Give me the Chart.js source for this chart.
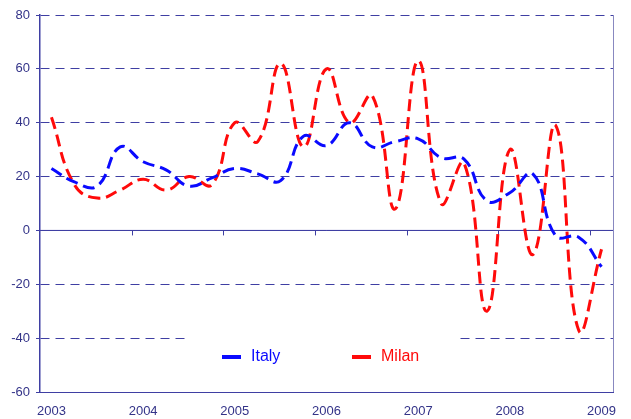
<!DOCTYPE html>
<html>
<head>
<meta charset="utf-8">
<script src="https://cdn.jsdelivr.net/npm/chart.js@4"></script>
<style>
html,body{margin:0;padding:0;background:#fff;}
#wrap{width:631px;height:419px;}
</style>
</head>
<body>
<div id="wrap"><canvas id="c" width="631" height="419"></canvas></div>
<script>
const quarters = ['2003 Q1','2003 Q2','2003 Q3','2003 Q4','2004 Q1','2004 Q2','2004 Q3','2004 Q4',
  '2005 Q1','2005 Q2','2005 Q3','2005 Q4','2006 Q1','2006 Q2','2006 Q3','2006 Q4',
  '2007 Q1','2007 Q2','2007 Q3','2007 Q4','2008 Q1','2008 Q2','2008 Q3','2008 Q4','2009 Q1'];
const italy = [23,18,16.5,31,25.5,22.5,16.5,19.5,23,21,18.5,35,31.5,40,31,33,34,27,26.5,11,14,21,-2,-2.5,-13.5];
const milan = [42,17,12,15,19,15,20,17,40,33,62,31,60,40,50,8,63,10,25,-30,30,-9,39,-37,-7];
const yMin = -60, yMax = 80, yStep = 20;

const axisColor = '#3f3fa3';
const labelColor = '#333388';

const extras = {
  id: 'extras',
  beforeDatasetsDraw(chart) {
    const {ctx, chartArea: a, scales: {x, y}} = chart;
    ctx.save();
    // solid zero line
    const y0 = y.getPixelForValue(0);
    ctx.strokeStyle = axisColor;
    ctx.lineWidth = 1;
    ctx.beginPath();
    ctx.moveTo(a.left, y0); ctx.lineTo(a.right, y0); ctx.stroke();
    // yearly tick marks on zero line at category boundaries
    for (let i = 4; i < quarters.length; i += 4) {
      const px = Math.round((x.getPixelForValue(i) + x.getPixelForValue(i - 1)) / 2) + 0.5;
      ctx.beginPath(); ctx.moveTo(px, y0); ctx.lineTo(px, y0 + 5); ctx.stroke();
    }
    // right border
    ctx.strokeStyle = '#8888c0';
    ctx.beginPath();
    ctx.moveTo(Math.round(a.right) + 0.5, a.top); ctx.lineTo(Math.round(a.right) + 0.5, a.bottom); ctx.stroke();
    // legend box
    const yl = y.getPixelForValue(-47);
    ctx.fillStyle = '#ffffff';
    ctx.fillRect(a.left + 145, y.getPixelForValue(-36), 270, y.getPixelForValue(-56) - y.getPixelForValue(-36));
    ctx.font = '16px "Liberation Sans", Arial, sans-serif';
    ctx.textBaseline = 'middle';
    const items = [{ds: chart.data.datasets[0], x0: a.left + 182}, {ds: chart.data.datasets[1], x0: a.left + 312}];
    items.forEach(it => {
      ctx.strokeStyle = it.ds.borderColor;
      ctx.lineWidth = 4;
      ctx.beginPath(); ctx.moveTo(it.x0, yl); ctx.lineTo(it.x0 + 19, yl); ctx.stroke();
      ctx.fillStyle = it.ds.borderColor;
      ctx.fillText(it.ds.label, it.x0 + 29, yl);
    });
    ctx.restore();
  }
};

new Chart(document.getElementById('c'), {
  type: 'line',
  data: {
    labels: quarters,
    datasets: [
      {label: 'Italy', data: italy, borderColor: '#0a0aff', borderWidth: 3, borderDash: [12, 6],
       pointRadius: 0, tension: 0.45, fill: false},
      {label: 'Milan', data: milan, borderColor: '#ff0a0a', borderWidth: 3, borderDash: [12, 6],
       pointRadius: 0, tension: 0.45, fill: false}
    ]
  },
  options: {
    responsive: false,
    animation: false,
    layout: {padding: {top: 15, right: 18, left: 0, bottom: 0}},
    plugins: {legend: {display: false}, tooltip: {enabled: false}, title: {display: false}},
    scales: {
      x: {
        offset: true,
        grid: {display: true, drawOnChartArea: false, drawTicks: false},
        border: {display: true, color: axisColor, width: 1},
        ticks: {
          autoSkip: false, maxRotation: 0, padding: 12, color: labelColor,
          font: {family: '"Liberation Sans", Arial, sans-serif', size: 13},
          callback: function(v, i) { const l = quarters[i]; return l.endsWith('Q1') ? l.slice(0, 4) : ''; }
        },
        afterFit: s => { s.height = 27; }
      },
      y: {
        min: yMin, max: yMax,
        grid: {color: axisColor, lineWidth: 1, drawTicks: true, tickLength: 4, tickColor: axisColor, tickBorderDash: []},
        border: {display: true, color: axisColor, width: 1.5,
                 dash: ctx => (ctx.tick && (ctx.tick.value === 0 || ctx.tick.value === yMin)) ? [] : [9, 6]},
        ticks: {stepSize: yStep, padding: 6, color: labelColor,
                font: {family: '"Liberation Sans", Arial, sans-serif', size: 13}},
        afterFit: s => { s.width = 40; }
      }
    }
  },
  plugins: [extras]
});
</script>
</body>
</html>
